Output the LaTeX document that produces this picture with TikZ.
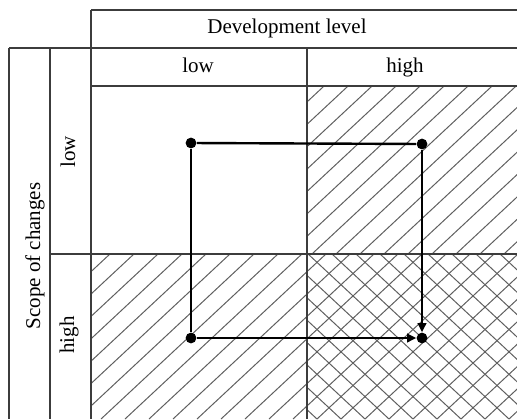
\documentclass[tikz,border=0pt]{standalone}
\usepackage{fontspec}
\setmainfont{Liberation Serif}
\usepackage{xcolor}
\definecolor{gridgray}{RGB}{60,60,60}
\definecolor{hatchgray}{RGB}{95,95,95}
\usetikzlibrary{arrows.meta,positioning}

\begin{document}
\begin{tikzpicture}[
  x=0.5pt, y=0.5pt,
  gridline/.style={line width=0.65pt, draw=gridgray},
  hatchline/.style={line width=0.5pt, draw=hatchgray},
  celltext/.style={font=\fontsize{10.5}{12}\selectfont, text=black, inner sep=1pt},
  dot/.style={circle, fill=black, inner sep=0pt, minimum size=5.4pt},
  conn/.style={line width=1.2pt, draw=black},
  arr/.style={conn, -{Triangle[length=4.5pt, width=4.2pt]}}
]
\useasboundingbox (0,0) rectangle (517,419);

% hatched cells
\begin{scope}
  \clip (307,165) rectangle (517,333);
  \foreach \c in {-81,-57,...,363}
    \draw[hatchline] (\c,0) -- ++(43:700);
\end{scope}
\begin{scope}
  \clip (91,0) rectangle (307,165);
  \foreach \c in {-91,-67,...,317}
    \draw[hatchline] (\c,0) -- ++(43:700);
\end{scope}
\begin{scope}
  \clip (307,0) rectangle (517,165);
  \foreach \c in {125,149,...,533}
    \draw[hatchline] (\c,0) -- ++(43:700);
  \foreach \c in {293,317,...,725}
    \draw[hatchline] (\c,0) -- ++(137:700);
\end{scope}

% table lines
\draw[gridline] (91,409) -- (517,409);
\draw[gridline] (9,371) -- (517,371);
\draw[gridline] (91,333) -- (517,333);
\draw[gridline] (50,165) -- (517,165);
\draw[gridline] (9,371) -- (9,0);
\draw[gridline] (50,371) -- (50,0);
\draw[gridline] (91,409) -- (91,0);
\draw[gridline] (307,371) -- (307,0);

% labels
\node[celltext, anchor=base] (devlevel) at (287,386) {Development level};
\node[celltext, anchor=base] (devlow) at (198,347) {low};
\node[celltext, anchor=base] (devhigh) at (405,347) {high};
\node[celltext, rotate=90] (scope) at (35,163) {Scope of changes};
\node[celltext, rotate=90] (scopelow) at (68,267) {low};
\node[celltext, rotate=90] (scopehigh) at (69,84) {high};

% path
\node[dot] (tl) at (191,276) {};
\node[dot] (tr) at (422,275) {};
\node[dot] (bl) at (191,81) {};
\node[dot] (br) at (422,81) {};

\draw[conn] (tl) -- (tr);
\draw[conn] (tl) -- (bl);
\draw[arr] (bl) -- (br);
\draw[arr] (tr) -- (br);
\end{tikzpicture}
\end{document}
